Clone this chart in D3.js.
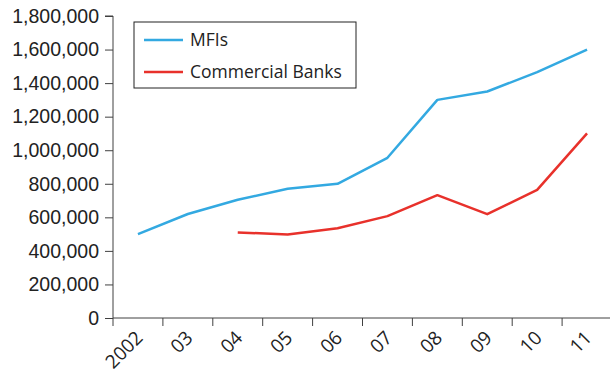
<!DOCTYPE html>
<html>
<head>
<meta charset="utf-8">
<script src="https://cdn.jsdelivr.net/npm/d3@7"></script>
<style>
  body { margin: 0; background: #fff; }
  svg { display: block; font-family: "Open Sans", "Noto Sans", sans-serif; }
</style>
</head>
<body>
<svg width="610" height="373"></svg>
<script>
const years = ['2002', '03', '04', '05', '06', '07', '08', '09', '10', '11'];
const mfis = [500000, 620000, 705000, 770000, 800000, 955000, 1300000, 1350000, 1465000, 1600000];
const banks = [null, null, 510000, 498000, 535000, 607000, 732000, 619000, 764000, 1100000];
const yTicks = [0, 200000, 400000, 600000, 800000, 1000000, 1200000, 1400000, 1600000, 1800000];

const svg = d3.select('svg');
const margin = { top: 16, right: -2, bottom: 55, left: 113 };
const width = 610 - margin.left - margin.right;
const height = 373 - margin.top - margin.bottom;
const axisColor = '#404040';
const textColor = '#222';

const g = svg.append('g').attr('transform', `translate(${margin.left},${margin.top})`);

const x = d3.scaleBand().domain(years).range([0, width]);
const y = d3.scaleLinear().domain([0, 1800000]).range([height, 0]);

// y axis
const yAxis = g.append('g')
  .call(d3.axisLeft(y).tickValues(yTicks).tickSize(8).tickPadding(6).tickFormat(d3.format(',')));
yAxis.selectAll('text').attr('font-size', 19.5).attr('fill', textColor);
yAxis.selectAll('line, path').attr('stroke', axisColor);
yAxis.select('.domain').attr('d', `M-8,0H0V${height}`);

// x axis, ticks on the band edges
const xAxis = g.append('g').attr('transform', `translate(0,${height})`);
xAxis.append('line').attr('x1', 0).attr('x2', width).attr('stroke', axisColor);
xAxis.selectAll('.tick').data(years).join('line')
  .attr('x1', d => x(d)).attr('x2', d => x(d))
  .attr('y1', 0).attr('y2', 8).attr('stroke', axisColor);
xAxis.selectAll('.label').data(years).join('text')
  .attr('transform', d => `translate(${x(d) + x.bandwidth() / 2 + 6},${21}) rotate(-45)`)
  .attr('text-anchor', 'end')
  .attr('font-size', 19)
  .attr('fill', textColor)
  .text(d => d);

const line = d3.line()
  .defined(d => d[1] != null)
  .x(d => x(d[0]) + x.bandwidth() / 2)
  .y(d => y(d[1]));

const series = [
  { name: 'MFIs', values: mfis, color: '#33a9e1' },
  { name: 'Commercial Banks', values: banks, color: '#e8312b' }
];

series.forEach(s => {
  g.append('path')
    .datum(years.map((yr, i) => [yr, s.values[i]]))
    .attr('fill', 'none')
    .attr('stroke', s.color)
    .attr('stroke-width', 2.5)
    .attr('stroke-linejoin', 'round')
    .attr('d', line);
});

// legend
const legend = svg.append('g').attr('transform', 'translate(134,22)');
legend.append('rect')
  .attr('width', 222).attr('height', 66)
  .attr('fill', '#fff').attr('stroke', '#222').attr('stroke-width', 1);
series.forEach((s, i) => {
  const ly = 18 + i * 32;
  legend.append('line')
    .attr('x1', 10).attr('x2', 49).attr('y1', ly).attr('y2', ly)
    .attr('stroke', s.color).attr('stroke-width', 2.5);
  legend.append('text')
    .attr('x', 56).attr('y', ly).attr('dy', '0.35em')
    .attr('font-size', 17.5).attr('fill', textColor)
    .text(s.name);
});
</script>
</body>
</html>
